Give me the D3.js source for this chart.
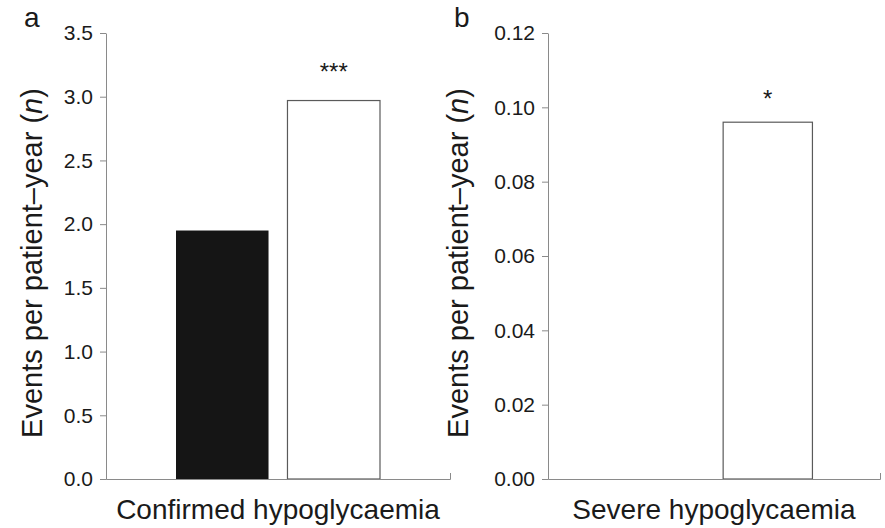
<!DOCTYPE html>
<html>
<head>
<meta charset="utf-8">
<script src="https://cdn.jsdelivr.net/npm/d3@7"></script>
<style>
  html, body { margin: 0; padding: 0; background: #fff; }
  svg { display: block; font-family: "Liberation Sans", Arial, Helvetica, sans-serif; }
</style>
</head>
<body>
<svg id="chart" width="885" height="528"></svg>
<script>
// Two treatment groups, drawn as black and white bars
const groups = ["groupA", "groupB"];

// Event rates per patient-year
const confirmedValues = [1.95, 2.97];
const severeValues = [0, 0.096];

// Axis ticks
const confirmedTicks = [0, 0.5, 1.0, 1.5, 2.0, 2.5, 3.0, 3.5];
const severeTicks = [0, 0.02, 0.04, 0.06, 0.08, 0.10, 0.12];

// Texts
const panelLetters = ["a", "b"];
const categoryLabels = ["Confirmed hypoglycaemia", "Severe hypoglycaemia"];
const significanceMarks = ["***", "*"];
const significanceLevels = [3.13, 0.1001];

const panelsData = [
  { values: confirmedValues, ticks: confirmedTicks, fmt: d3.format(".1f") },
  { values: severeValues, ticks: severeTicks, fmt: d3.format(".2f") }
];

// Geometry
const plotTop = 33, plotBottom = 479;
const layout = [
  { left: 106, right: 450, letterX: 24, titleX: 42 },
  { left: 548, right: 880, letterX: 454, titleX: 468 }
];
const fills = ["#151515", "#ffffff"];
const textColor = "#1a1a1a";
const axisColor = "#8a8a8a";

const svg = d3.select("#chart");
svg.append("rect").attr("width", 885).attr("height", 528).attr("fill", "#fff");

panelsData.forEach((p, i) => {
  const L = layout[i];
  const g = svg.append("g");

  const y = d3.scaleLinear()
    .domain([0, d3.max(p.ticks)])
    .range([plotBottom, plotTop]);

  const x = d3.scaleBand()
    .domain(groups)
    .range([L.left, L.right])
    .paddingInner(0.17)
    .paddingOuter(0.628);

  // bars
  g.selectAll("rect.bar")
    .data(p.values.map((v, j) => ({ key: groups[j], value: v, j })))
    .join("rect")
    .attr("class", "bar")
    .attr("x", d => x(d.key))
    .attr("width", x.bandwidth())
    .attr("y", d => y(d.value))
    .attr("height", d => y(0) - y(d.value))
    .attr("fill", d => fills[d.j])
    .attr("stroke", d => d.j === 1 && d.value > 0 ? "#5a5a5a" : "none")
    .attr("stroke-width", 1.2);

  // y axis
  const ya = g.append("g")
    .attr("transform", `translate(${L.left},0)`)
    .call(d3.axisLeft(y).tickValues(p.ticks).tickFormat(p.fmt)
      .tickSize(6).tickSizeOuter(0).tickPadding(7));
  ya.select(".domain").attr("stroke", axisColor);
  ya.selectAll(".tick line").attr("stroke", axisColor);
  ya.selectAll(".tick text")
    .attr("fill", textColor)
    .style("font-size", "21px")
    .style("font-family", "'Liberation Sans', Arial, Helvetica, sans-serif");

  // x axis line with upturned end
  const xa = g.append("g")
    .attr("transform", `translate(0,${plotBottom})`)
    .call(d3.axisBottom(x).tickValues([]).tickSizeOuter(-6));
  xa.select(".domain").attr("stroke", axisColor);

  // category label
  const cx = (x(groups[0]) + x(groups[1]) + x.bandwidth()) / 2;
  g.append("text")
    .attr("x", cx)
    .attr("y", 519)
    .attr("text-anchor", "middle")
    .attr("fill", textColor)
    .style("font-size", "28px")
    .text(categoryLabels[i]);

  // y title
  const t = g.append("text")
    .attr("transform", `translate(${L.titleX},${(plotTop + plotBottom) / 2 + 7}) rotate(-90)`)
    .attr("text-anchor", "middle")
    .attr("fill", textColor)
    .style("font-size", "29px");
  t.append("tspan").text("Events per patient\u2013year (");
  t.append("tspan").style("font-style", "italic").text("n");
  t.append("tspan").text(")");

  // significance mark above the second bar
  g.append("text")
    .attr("x", x(groups[1]) + x.bandwidth() / 2)
    .attr("y", y(significanceLevels[i]))
    .attr("text-anchor", "middle")
    .attr("fill", textColor)
    .style("font-size", "24px")
    .text(significanceMarks[i]);

  // panel letter
  g.append("text")
    .attr("x", L.letterX)
    .attr("y", 27)
    .attr("fill", textColor)
    .style("font-size", "28px")
    .text(panelLetters[i]);
});
</script>
</body>
</html>
